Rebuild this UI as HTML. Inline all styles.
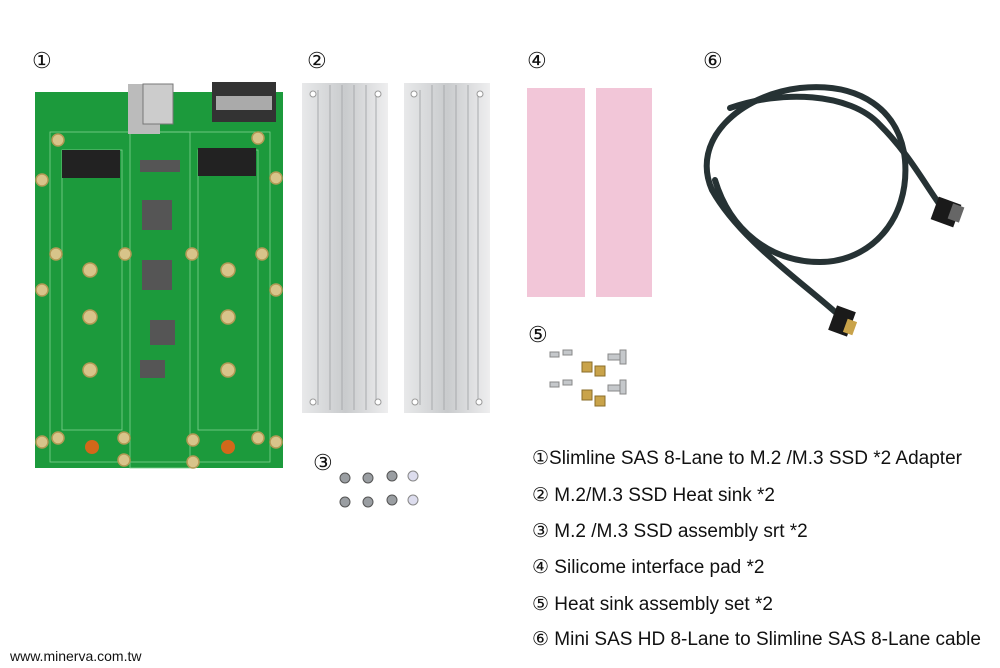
<!DOCTYPE html>
<html><head><style>
body{margin:0;background:#fff;}
.wrap{position:relative;width:1000px;height:668px;overflow:hidden;font-family:"Liberation Sans",sans-serif;}
.t{position:absolute;font-size:19px;color:#111;white-space:nowrap;}
.n{position:absolute;font-size:22px;color:#111;line-height:1;}
</style></head><body><div class="wrap">
<svg width="1000" height="668" style="position:absolute;left:0;top:0">
<defs>
<linearGradient id="al" x1="0" x2="1"><stop offset="0" stop-color="#e8e9ea"/><stop offset=".5" stop-color="#c9cbcd"/><stop offset="1" stop-color="#eeeeef"/></linearGradient>
</defs>
<rect x="35" y="92" width="248" height="376" fill="#1c9a3c"/>
<rect x="50" y="132" width="220" height="330" fill="none" stroke="#7fd08f" stroke-width="0.8"/>
<rect x="62" y="150" width="60" height="280" fill="none" stroke="#7fd08f" stroke-width="0.8"/>
<rect x="198" y="150" width="60" height="280" fill="none" stroke="#7fd08f" stroke-width="0.8"/>
<rect x="130" y="132" width="60" height="336" fill="none" stroke="#7fd08f" stroke-width="0.8"/>
<rect x="62" y="150" width="58" height="28" fill="#222"/>
<rect x="198" y="148" width="58" height="28" fill="#222"/>
<rect x="128" y="84" width="32" height="50" fill="#bbb"/>
<rect x="143" y="84" width="30" height="40" fill="#ccc" stroke="#777"/>
<rect x="212" y="82" width="64" height="40" fill="#333"/>
<rect x="216" y="96" width="56" height="14" fill="#aaa"/>
<g fill="#555"><rect x="140" y="160" width="40" height="12"/><rect x="142" y="200" width="30" height="30"/><rect x="142" y="260" width="30" height="30"/><rect x="150" y="320" width="25" height="25"/><rect x="140" y="360" width="25" height="18"/></g>
<g fill="#d8c48a" stroke="#b39a55" stroke-width="1.5">
<circle cx="58" cy="140" r="6"/><circle cx="258" cy="138" r="6"/><circle cx="42" cy="180" r="6"/><circle cx="276" cy="178" r="6"/>
<circle cx="56" cy="254" r="6"/><circle cx="125" cy="254" r="6"/><circle cx="192" cy="254" r="6"/><circle cx="262" cy="254" r="6"/>
<circle cx="90" cy="270" r="7"/><circle cx="228" cy="270" r="7"/><circle cx="42" cy="290" r="6"/><circle cx="276" cy="290" r="6"/>
<circle cx="90" cy="317" r="7"/><circle cx="228" cy="317" r="7"/><circle cx="90" cy="370" r="7"/><circle cx="228" cy="370" r="7"/>
<circle cx="42" cy="442" r="6"/><circle cx="58" cy="438" r="6"/><circle cx="124" cy="438" r="6"/><circle cx="193" cy="440" r="6"/><circle cx="258" cy="438" r="6"/><circle cx="276" cy="442" r="6"/>
<circle cx="124" cy="460" r="6"/><circle cx="193" cy="462" r="6"/></g>
<circle cx="92" cy="447" r="7" fill="#d2681a"/><circle cx="228" cy="447" r="7" fill="#d2681a"/>
<g>
<rect x="302" y="83" width="86" height="330" fill="url(#al)"/>
<rect x="404" y="83" width="86" height="330" fill="url(#al)"/>
<g stroke="#a8aaad" stroke-width="1">
<line x1="318" y1="90" x2="318" y2="405"/><line x1="330" y1="85" x2="330" y2="410"/><line x1="342" y1="85" x2="342" y2="410"/><line x1="354" y1="85" x2="354" y2="410"/><line x1="366" y1="85" x2="366" y2="410"/><line x1="376" y1="95" x2="376" y2="400"/>
<line x1="420" y1="90" x2="420" y2="405"/><line x1="432" y1="85" x2="432" y2="410"/><line x1="444" y1="85" x2="444" y2="410"/><line x1="456" y1="85" x2="456" y2="410"/><line x1="468" y1="85" x2="468" y2="410"/><line x1="478" y1="95" x2="478" y2="400"/></g>
<g fill="#fff" stroke="#999"><circle cx="313" cy="94" r="3"/><circle cx="378" cy="94" r="3"/><circle cx="313" cy="402" r="3"/><circle cx="378" cy="402" r="3"/><circle cx="414" cy="94" r="3"/><circle cx="480" cy="94" r="3"/><circle cx="415" cy="402" r="3"/><circle cx="479" cy="402" r="3"/></g>
</g>
<rect x="527" y="88" width="58" height="209" fill="#f2c6d8"/>
<rect x="596" y="88" width="56" height="209" fill="#f2c6d8"/>
<g fill="none" stroke="#263234" stroke-width="6" stroke-linecap="round">
<path d="M842 318 C 800 280, 740 240, 712 190 C 690 140, 740 95, 800 88 C 860 82, 900 110, 905 160 C 910 220, 870 262, 820 262 C 770 262, 730 230, 715 180"/>
<path d="M730 108 C 780 90, 850 92, 880 125 C 910 155, 925 185, 945 212"/>
</g>
<rect x="934" y="200" width="24" height="24" fill="#1a1a1a" transform="rotate(20 946 212)"/>
<rect x="950" y="205" width="12" height="16" fill="#666" transform="rotate(20 956 213)"/>
<rect x="832" y="308" width="20" height="26" fill="#1a1a1a" transform="rotate(20 842 321)"/>
<rect x="845" y="320" width="10" height="14" fill="#c9a34a" transform="rotate(20 850 327)"/>
<g fill="#c5c8cb" stroke="#888">
<rect x="550" y="352" width="9" height="5"/><rect x="563" y="350" width="9" height="5"/><rect x="608" y="354" width="12" height="6"/><rect x="620" y="350" width="6" height="14"/>
<rect x="550" y="382" width="9" height="5"/><rect x="563" y="380" width="9" height="5"/><rect x="608" y="385" width="12" height="6"/><rect x="620" y="380" width="6" height="14"/></g>
<g fill="#c9a34a" stroke="#8a6e2a"><rect x="582" y="362" width="10" height="10"/><rect x="595" y="366" width="10" height="10"/><rect x="582" y="390" width="10" height="10"/><rect x="595" y="396" width="10" height="10"/></g>
<g fill="#9a9ea2" stroke="#555"><circle cx="345" cy="478" r="5"/><circle cx="345" cy="502" r="5"/><circle cx="368" cy="478" r="5"/><circle cx="368" cy="502" r="5"/><circle cx="392" cy="476" r="5"/><circle cx="392" cy="500" r="5"/></g>
<g fill="#dde" stroke="#888"><circle cx="413" cy="476" r="5"/><circle cx="413" cy="500" r="5"/></g>
</svg>
<div class="n" style="left:32px;top:50px">①</div>
<div class="n" style="left:307px;top:50px">②</div>
<div class="n" style="left:527px;top:50px">④</div>
<div class="n" style="left:703px;top:50px">⑥</div>
<div class="n" style="left:528px;top:324px">⑤</div>
<div class="n" style="left:313px;top:452px">③</div>
<div class="t" style="left:532px;top:447px">①Slimline SAS 8-Lane to M.2 /M.3 SSD *2 Adapter</div>
<div class="t" style="left:532px;top:484px">② M.2/M.3 SSD Heat sink *2</div>
<div class="t" style="left:532px;top:520px">③ M.2 /M.3 SSD assembly srt *2</div>
<div class="t" style="left:532px;top:556px">④ Silicome interface pad *2</div>
<div class="t" style="left:532px;top:593px">⑤ Heat sink assembly set *2</div>
<div class="t" style="left:532px;top:628px">⑥ Mini SAS HD 8-Lane to Slimline SAS 8-Lane cable</div>
<div class="t" style="left:10px;top:648px;font-size:14px">www.minerva.com.tw</div>
</div></body></html>
